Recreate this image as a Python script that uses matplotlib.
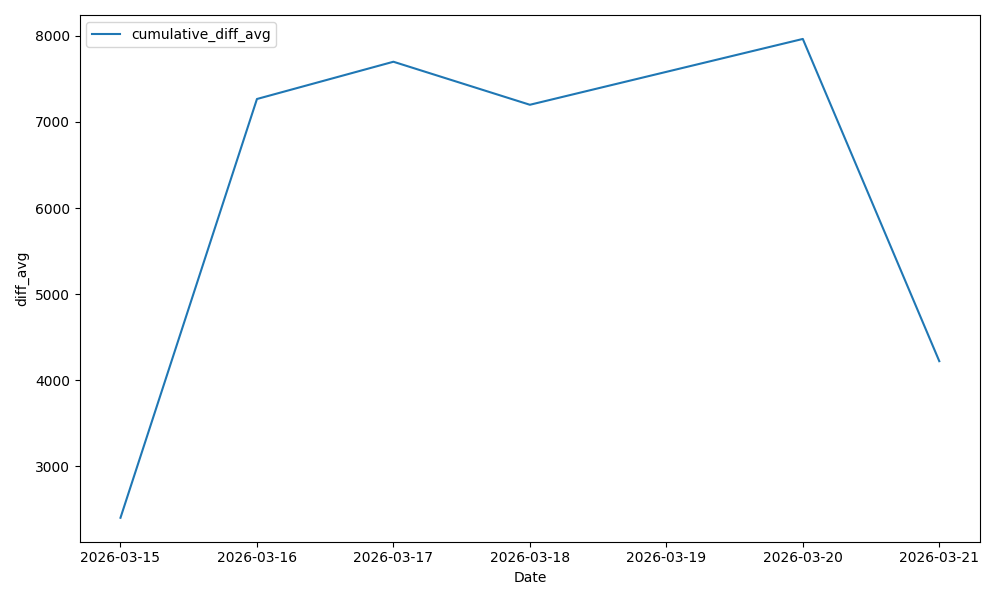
import matplotlib
matplotlib.use("Agg")
import matplotlib.pyplot as plt
import matplotlib.dates as mdates
import pandas as pd

dates = ["2026-03-15", "2026-03-16", "2026-03-17", "2026-03-18", "2026-03-20", "2026-03-21"]
diff_avg = [2400, 7267, 7700, 7200, 7965, 4220]


def main():
    x = pd.to_datetime(dates)
    fig, ax = plt.subplots(figsize=(10, 6), dpi=100)
    ax.plot(x, diff_avg, label="cumulative_diff_avg")
    ax.xaxis.set_major_locator(mdates.DayLocator())
    ax.xaxis.set_major_formatter(mdates.DateFormatter("%Y-%m-%d"))
    ax.set_xlabel("Date")
    ax.set_ylabel("diff_avg")
    ax.legend(loc="upper left")
    fig.tight_layout()
    fig.savefig("out.png")


if __name__ == "__main__":
    main()
